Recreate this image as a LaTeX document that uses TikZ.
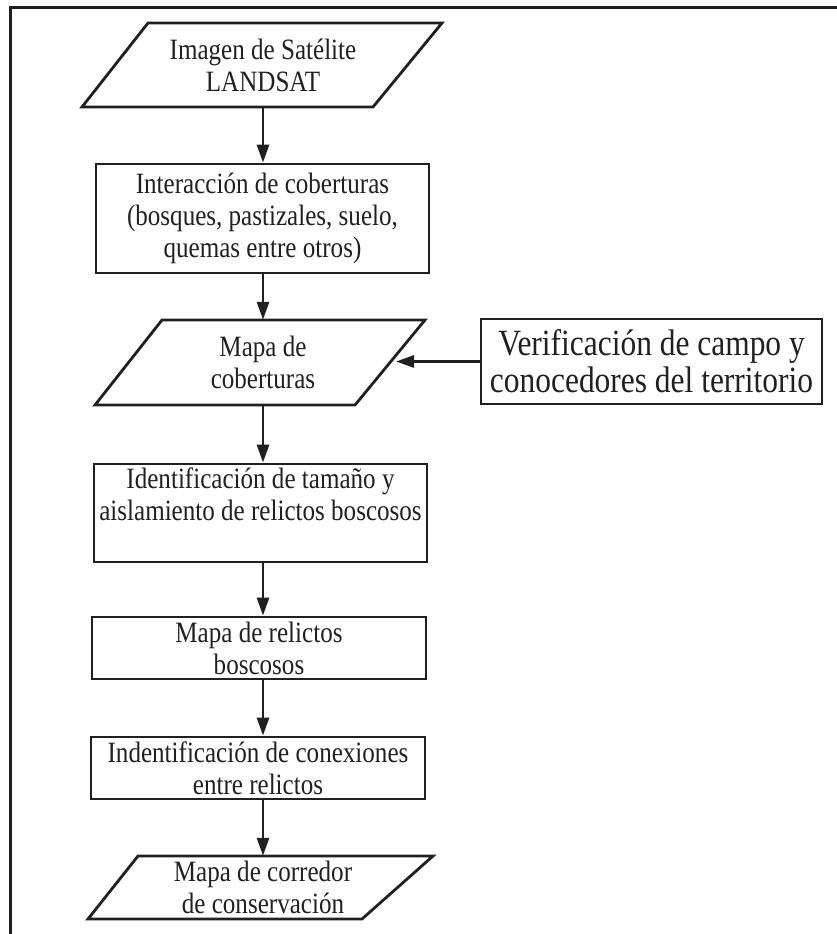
\documentclass[tikz,border=0pt]{standalone}
\usepackage{fontspec}
\setmainfont{Liberation Serif}[FakeStretch=0.85]
\usetikzlibrary{arrows.meta}
\definecolor{ink}{HTML}{231F20}
\newcommand{\mfont}{\fontsize{29.5}{32}\selectfont}
\newcommand{\rfont}{\fontsize{37}{37}\selectfont}
\begin{document}
\begin{tikzpicture}[x=1pt,y=-1pt,
  frame/.style={draw=ink,line width=3pt},
  outline/.style={draw=ink,line width=2.8pt,line join=miter},
  box/.style={draw=ink,line width=2.8pt,align=center,inner sep=0pt,text=ink,font=\mfont},
  lbl/.style={align=center,inner sep=0pt,text=ink,font=\mfont},
  arr/.style={draw=ink,line width=2.8pt,-{Triangle[length=18pt,width=12pt]}}]
\useasboundingbox (0,0) rectangle (837,934);
\draw[frame] (837,7.5) -- (10,7.5) -- (10,934);

% parallelogram 1
\draw[outline] (148,23) -- (442,23) -- (373,107) -- (82,107) -- cycle;
\node[lbl,minimum width=290pt,minimum height=84pt] (p1) at (263,65) {Imagen de Satélite\\LANDSAT};

\node[box,minimum width=333pt,minimum height=109pt] (b2) at (262.5,218.5)
  {Interacción de coberturas\\(bosques, pastizales, suelo,\\quemas entre otros)};

% parallelogram 3
\draw[outline] (162,320) -- (425,320) -- (355,405) -- (95,405) -- cycle;
\node[lbl,minimum width=260pt,minimum height=85pt] (p3) at (263,362.5) {Mapa de\\coberturas};
\coordinate (p3in) at (396,361.5);

\node[box,font=\rfont,minimum width=341pt,minimum height=85pt] (r) at (651.5,361.5)
  {Verificación de campo y\\conocedores del territorio};

\node[box,minimum width=333pt,minimum height=98pt] (b4) at (260.5,513)
  {Identificación de tamaño y\\aislamiento de relictos boscosos\\[6pt]};

\node[box,minimum width=334pt,minimum height=62pt] (b5) at (259,648)
  {Mapa de relictos\\boscosos};

\node[box,minimum width=334pt,minimum height=62pt] (b6) at (258,768)
  {Indentificación de conexiones\\entre relictos};

% parallelogram 7
\draw[outline] (138,856) -- (433,856) -- (362,919) -- (88,919) -- cycle;
\node[lbl,minimum width=270pt,minimum height=63pt] (p7) at (263,887.5) {Mapa de corredor\\de conservación};

\draw[arr] (p1.south) -- (b2.north -| p1.south);
\draw[arr] (b2.south -| p1.south) -- (p3.north);
\draw[arr] (r.west) -- (p3in);
\draw[arr] (p3.south) -- (b4.north -| p3.south);
\draw[arr] (b4.south -| p3.south) -- (b5.north -| p3.south);
\draw[arr] (b5.south -| p3.south) -- (b6.north -| p3.south);
\draw[arr] (b6.south -| p3.south) -- (p7.north);
\end{tikzpicture}
\end{document}
